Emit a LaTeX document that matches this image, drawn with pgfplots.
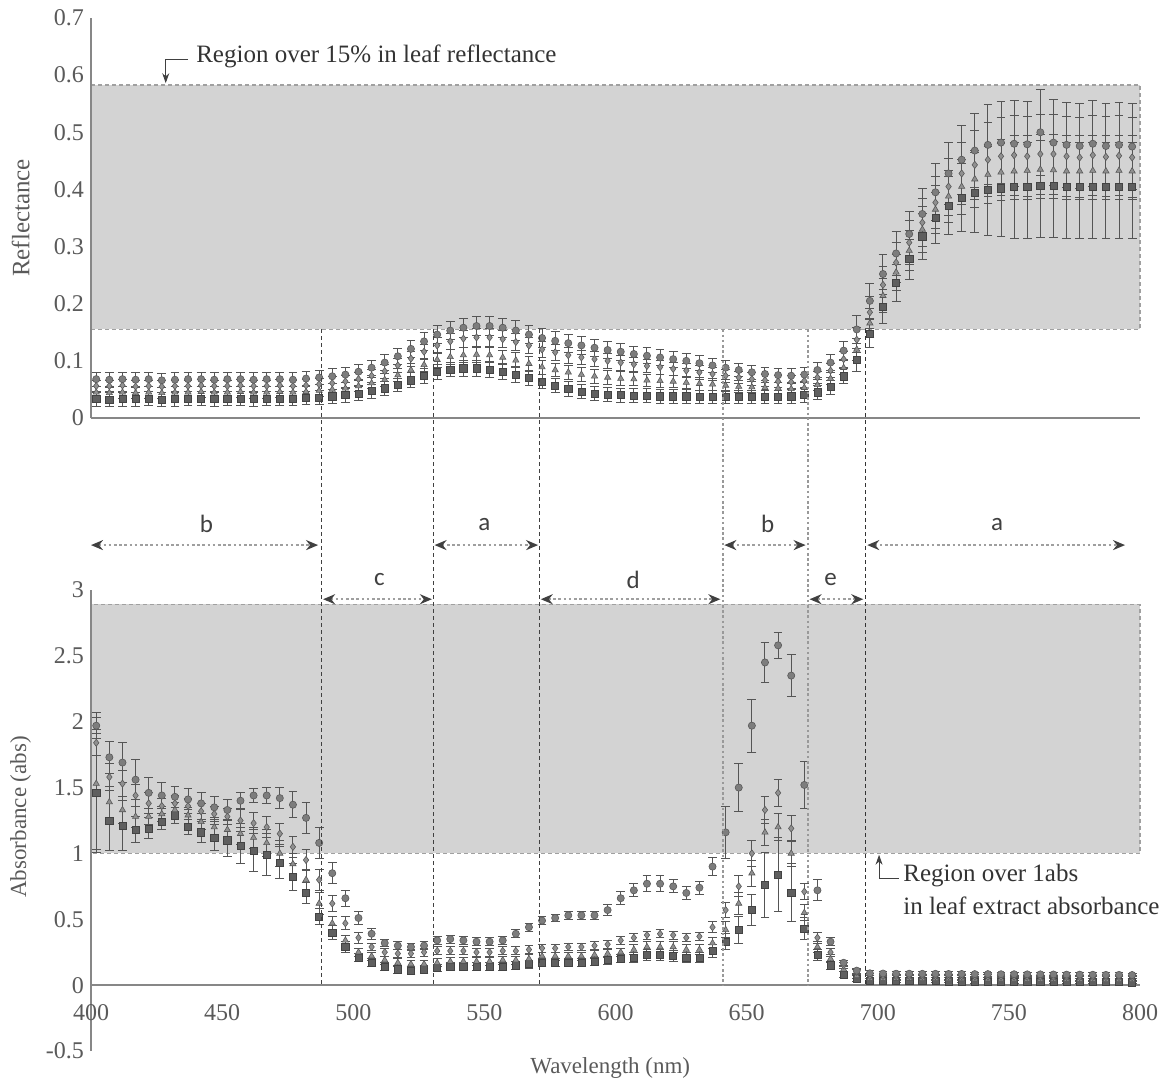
\documentclass[border=0pt]{standalone}
\usepackage{pgfplots}
\pgfplotsset{compat=1.18}
\usepackage{pgfplotstable}
\usepackage{fontspec}
\setmainfont{Liberation Serif}
\newfontfamily\lblfont{Carlito}
\usetikzlibrary{arrows.meta}

\definecolor{regiongray}{RGB}{211,211,211}
\definecolor{regionedge}{RGB}{160,160,160}
\definecolor{axgray}{RGB}{135,135,135}
\definecolor{txtgray}{RGB}{90,90,90}
\definecolor{mkgray}{RGB}{125,125,125}
\definecolor{mkdark}{RGB}{95,95,95}
\definecolor{errgray}{RGB}{85,85,85}

\pgfplotstableread{
x s1 e1 s2 e2 s3 e3 s4 e4
402 0.068 0.012 0.056 0.010 0.045 0.010 0.033 0.012
407 0.067 0.012 0.056 0.010 0.044 0.010 0.032 0.012
412 0.068 0.012 0.057 0.010 0.045 0.010 0.033 0.012
417 0.067 0.012 0.055 0.010 0.044 0.010 0.033 0.012
422 0.068 0.012 0.056 0.010 0.045 0.010 0.034 0.012
427 0.066 0.012 0.055 0.010 0.044 0.010 0.032 0.012
432 0.067 0.012 0.056 0.010 0.045 0.010 0.033 0.012
437 0.068 0.012 0.056 0.010 0.045 0.010 0.034 0.012
442 0.068 0.012 0.057 0.010 0.046 0.010 0.034 0.012
447 0.067 0.012 0.056 0.010 0.045 0.010 0.033 0.012
452 0.068 0.012 0.056 0.010 0.045 0.010 0.034 0.012
457 0.068 0.012 0.057 0.010 0.046 0.010 0.034 0.012
462 0.067 0.012 0.056 0.010 0.045 0.010 0.033 0.012
467 0.068 0.012 0.056 0.010 0.045 0.010 0.034 0.012
472 0.068 0.012 0.057 0.010 0.046 0.010 0.034 0.012
477 0.067 0.012 0.056 0.010 0.045 0.010 0.034 0.012
482 0.069 0.012 0.057 0.010 0.046 0.010 0.035 0.012
487 0.071 0.013 0.059 0.011 0.048 0.010 0.036 0.012
492 0.073 0.013 0.061 0.011 0.050 0.010 0.038 0.012
497 0.076 0.013 0.064 0.011 0.052 0.010 0.040 0.012
502 0.081 0.013 0.068 0.011 0.056 0.010 0.043 0.012
507 0.088 0.013 0.074 0.011 0.061 0.010 0.047 0.012
512 0.097 0.014 0.082 0.012 0.067 0.011 0.052 0.012
517 0.108 0.014 0.092 0.012 0.075 0.011 0.058 0.012
522 0.121 0.015 0.104 0.013 0.084 0.012 0.066 0.013
527 0.134 0.015 0.116 0.013 0.093 0.012 0.074 0.013
532 0.146 0.016 0.127 0.014 0.102 0.013 0.081 0.013
537 0.153 0.016 0.134 0.014 0.107 0.013 0.085 0.013
542 0.158 0.017 0.139 0.015 0.110 0.013 0.087 0.014
547 0.161 0.017 0.141 0.015 0.111 0.013 0.087 0.014
552 0.161 0.017 0.141 0.015 0.110 0.013 0.085 0.014
557 0.158 0.017 0.138 0.015 0.106 0.013 0.081 0.014
562 0.153 0.017 0.133 0.015 0.101 0.013 0.076 0.014
567 0.146 0.016 0.127 0.014 0.095 0.013 0.070 0.013
572 0.140 0.016 0.120 0.014 0.089 0.012 0.064 0.013
577 0.135 0.016 0.115 0.014 0.084 0.012 0.057 0.013
582 0.131 0.016 0.110 0.014 0.080 0.012 0.051 0.013
587 0.127 0.015 0.106 0.013 0.076 0.012 0.046 0.012
592 0.123 0.015 0.103 0.013 0.073 0.012 0.043 0.012
597 0.119 0.015 0.100 0.013 0.071 0.012 0.041 0.012
602 0.116 0.015 0.097 0.013 0.069 0.012 0.040 0.012
607 0.112 0.014 0.094 0.012 0.068 0.011 0.039 0.012
612 0.109 0.014 0.091 0.012 0.066 0.011 0.039 0.012
617 0.106 0.014 0.089 0.012 0.065 0.011 0.038 0.012
622 0.103 0.014 0.086 0.012 0.064 0.011 0.038 0.012
627 0.100 0.013 0.083 0.012 0.062 0.011 0.038 0.012
632 0.096 0.013 0.080 0.012 0.060 0.011 0.037 0.012
637 0.092 0.013 0.077 0.011 0.059 0.010 0.037 0.012
642 0.088 0.013 0.074 0.011 0.057 0.010 0.037 0.012
647 0.084 0.012 0.071 0.011 0.055 0.010 0.037 0.012
652 0.080 0.012 0.068 0.011 0.054 0.010 0.037 0.012
657 0.077 0.012 0.066 0.011 0.053 0.010 0.037 0.012
662 0.075 0.012 0.064 0.011 0.052 0.010 0.037 0.012
667 0.074 0.012 0.063 0.011 0.051 0.010 0.038 0.012
672 0.076 0.012 0.065 0.011 0.053 0.010 0.040 0.012
677 0.084 0.013 0.071 0.011 0.058 0.010 0.045 0.012
682 0.097 0.014 0.083 0.012 0.069 0.011 0.054 0.012
687 0.118 0.016 0.103 0.014 0.088 0.012 0.073 0.013
692 0.155 0.025 0.137 0.022 0.120 0.020 0.102 0.020
697 0.205 0.030 0.185 0.028 0.166 0.025 0.148 0.025
702 0.252 0.035 0.233 0.032 0.214 0.030 0.195 0.030
707 0.288 0.038 0.272 0.035 0.255 0.032 0.236 0.032
712 0.322 0.040 0.307 0.038 0.293 0.035 0.278 0.035
717 0.357 0.045 0.342 0.042 0.330 0.040 0.318 0.040
722 0.395 0.050 0.377 0.045 0.365 0.042 0.350 0.045
727 0.428 0.055 0.405 0.050 0.388 0.045 0.372 0.050
732 0.452 0.060 0.428 0.055 0.405 0.048 0.386 0.060
737 0.468 0.065 0.443 0.060 0.418 0.050 0.394 0.070
742 0.478 0.070 0.452 0.065 0.426 0.050 0.399 0.080
747 0.482 0.072 0.458 0.068 0.430 0.050 0.402 0.085
752 0.480 0.075 0.460 0.070 0.432 0.050 0.404 0.090
757 0.479 0.075 0.458 0.070 0.433 0.050 0.405 0.090
762 0.500 0.075 0.462 0.070 0.435 0.050 0.406 0.090
767 0.482 0.075 0.462 0.070 0.434 0.050 0.406 0.090
772 0.478 0.075 0.458 0.070 0.432 0.050 0.405 0.090
777 0.476 0.075 0.456 0.070 0.432 0.050 0.404 0.090
782 0.480 0.075 0.460 0.070 0.433 0.050 0.405 0.090
787 0.476 0.075 0.457 0.070 0.432 0.050 0.404 0.090
792 0.478 0.075 0.459 0.070 0.433 0.050 0.405 0.090
797 0.475 0.075 0.456 0.070 0.432 0.050 0.404 0.090
}\toptab

\pgfplotstableread{
x b1 f1 b2 f2 b3 f3 b4 f4
402 1.97 0.10 1.84 0.10 1.53 0.50 1.46 0.45
407 1.73 0.12 1.58 0.10 1.39 0.12 1.25 0.23
412 1.69 0.15 1.53 0.10 1.33 0.10 1.21 0.19
417 1.56 0.15 1.44 0.08 1.28 0.08 1.18 0.10
422 1.46 0.12 1.38 0.08 1.28 0.06 1.19 0.08
427 1.44 0.10 1.36 0.06 1.30 0.06 1.24 0.06
432 1.43 0.08 1.38 0.06 1.33 0.06 1.29 0.06
437 1.41 0.08 1.36 0.06 1.29 0.06 1.20 0.06
442 1.38 0.08 1.32 0.06 1.24 0.06 1.16 0.08
447 1.35 0.08 1.30 0.06 1.20 0.06 1.12 0.10
452 1.33 0.08 1.28 0.06 1.18 0.08 1.10 0.12
457 1.40 0.06 1.25 0.08 1.15 0.08 1.06 0.14
462 1.44 0.05 1.23 0.08 1.12 0.08 1.02 0.16
467 1.44 0.06 1.20 0.08 1.08 0.10 0.99 0.16
472 1.42 0.08 1.15 0.08 1.00 0.10 0.93 0.12
477 1.37 0.10 1.05 0.08 0.92 0.08 0.82 0.10
482 1.27 0.12 0.95 0.08 0.80 0.08 0.70 0.08
487 1.08 0.12 0.80 0.08 0.62 0.08 0.52 0.06
492 0.85 0.08 0.62 0.06 0.47 0.05 0.40 0.05
497 0.66 0.06 0.47 0.05 0.34 0.04 0.29 0.04
502 0.51 0.05 0.36 0.04 0.25 0.03 0.21 0.03
507 0.39 0.04 0.29 0.03 0.22 0.03 0.17 0.03
512 0.32 0.03 0.25 0.03 0.19 0.03 0.14 0.03
517 0.30 0.03 0.24 0.03 0.17 0.03 0.12 0.03
522 0.29 0.03 0.24 0.03 0.16 0.03 0.11 0.03
527 0.30 0.03 0.25 0.03 0.16 0.03 0.12 0.03
532 0.34 0.03 0.26 0.03 0.17 0.03 0.13 0.03
537 0.35 0.03 0.26 0.03 0.18 0.03 0.14 0.03
542 0.34 0.03 0.26 0.03 0.18 0.03 0.14 0.03
547 0.33 0.03 0.25 0.03 0.18 0.03 0.14 0.03
552 0.33 0.03 0.25 0.03 0.18 0.03 0.14 0.03
557 0.34 0.03 0.26 0.03 0.19 0.03 0.14 0.03
562 0.39 0.03 0.26 0.03 0.19 0.03 0.15 0.03
567 0.44 0.03 0.27 0.03 0.20 0.03 0.16 0.03
572 0.49 0.03 0.28 0.03 0.22 0.03 0.17 0.03
577 0.51 0.03 0.28 0.03 0.22 0.03 0.17 0.03
582 0.53 0.03 0.29 0.03 0.22 0.03 0.17 0.03
587 0.53 0.03 0.29 0.03 0.22 0.03 0.17 0.03
592 0.53 0.03 0.30 0.03 0.23 0.03 0.18 0.03
597 0.57 0.04 0.31 0.03 0.24 0.03 0.19 0.03
602 0.66 0.05 0.34 0.03 0.25 0.03 0.20 0.03
607 0.72 0.05 0.36 0.03 0.27 0.04 0.21 0.04
612 0.77 0.06 0.38 0.03 0.29 0.04 0.23 0.04
617 0.77 0.06 0.39 0.03 0.29 0.04 0.23 0.04
622 0.75 0.05 0.38 0.03 0.29 0.04 0.22 0.04
627 0.70 0.05 0.36 0.03 0.27 0.04 0.21 0.04
632 0.74 0.05 0.37 0.03 0.27 0.04 0.21 0.04
637 0.90 0.07 0.44 0.04 0.32 0.04 0.26 0.05
642 1.16 0.20 0.57 0.06 0.42 0.06 0.33 0.06
647 1.50 0.18 0.75 0.08 0.62 0.08 0.42 0.10
652 1.97 0.20 1.00 0.10 0.85 0.10 0.57 0.12
657 2.45 0.15 1.33 0.10 1.16 0.10 0.76 0.25
662 2.58 0.10 1.46 0.10 1.20 0.10 0.84 0.28
667 2.35 0.16 1.19 0.10 1.00 0.10 0.70 0.22
672 1.52 0.18 0.71 0.06 0.55 0.06 0.43 0.08
677 0.72 0.08 0.36 0.04 0.29 0.04 0.23 0.04
682 0.33 0.03 0.25 0.03 0.20 0.03 0.15 0.03
687 0.17 0.02 0.15 0.02 0.12 0.02 0.08 0.02
692 0.11 0.02 0.10 0.02 0.07 0.02 0.05 0.02
697 0.09 0.02 0.07 0.02 0.05 0.02 0.03 0.02
702 0.088 0.015 0.070 0.012 0.050 0.012 0.032 0.012
707 0.087 0.015 0.069 0.012 0.049 0.012 0.031 0.012
712 0.087 0.015 0.069 0.012 0.049 0.012 0.031 0.012
717 0.086 0.015 0.068 0.012 0.048 0.012 0.030 0.012
722 0.086 0.015 0.068 0.012 0.048 0.012 0.030 0.012
727 0.085 0.015 0.067 0.012 0.047 0.012 0.029 0.012
732 0.085 0.015 0.067 0.012 0.047 0.012 0.029 0.012
737 0.084 0.015 0.066 0.012 0.046 0.012 0.028 0.012
742 0.084 0.015 0.066 0.012 0.046 0.012 0.028 0.012
747 0.083 0.015 0.065 0.012 0.045 0.012 0.027 0.012
752 0.083 0.015 0.065 0.012 0.045 0.012 0.027 0.012
757 0.082 0.015 0.064 0.012 0.044 0.012 0.026 0.012
762 0.082 0.015 0.064 0.012 0.044 0.012 0.026 0.012
767 0.081 0.015 0.063 0.012 0.043 0.012 0.025 0.012
772 0.080 0.015 0.063 0.012 0.043 0.012 0.025 0.012
777 0.080 0.015 0.062 0.012 0.042 0.012 0.024 0.012
782 0.079 0.015 0.062 0.012 0.042 0.012 0.024 0.012
787 0.078 0.015 0.061 0.012 0.041 0.012 0.023 0.012
792 0.078 0.015 0.061 0.012 0.041 0.012 0.023 0.012
797 0.077 0.015 0.060 0.012 0.040 0.012 0.022 0.012
}\bottab

\pgfplotsset{
  panel/.style={
    scale only axis,
    width=524.5pt,
    xmin=400, xmax=800,
    clip=false,
    axis on top,
    major tick length=0pt,
    axis line style={axgray, line width=0.9pt},
    tick label style={font=\fontsize{12}{14}\selectfont, text=txtgray},
    /pgf/number format/assume math mode=true,
    scaled y ticks=false,
    yticklabel style={/pgf/number format/fixed},
  },
  noarrows/.style={
    every inner x axis line/.append style={-},
    every outer x axis line/.append style={-},
    every inner y axis line/.append style={-},
    every outer y axis line/.append style={-},
  },
  ser/.style={only marks, mark size=1.8pt,
    error bars/.cd, y dir=both, y explicit,
    error mark=-,
    error bar style={errgray, line width=0.5pt},
    error mark options={rotate=90, errgray, mark size=2.2pt, line width=0.5pt}},
  m1/.style={mark=*, mark options={fill=mkgray, draw=mkgray!70!black, line width=0.3pt}},
  m2/.style={mark=diamond*, mark options={fill=mkgray!85, draw=mkgray!70!black, line width=0.3pt}},
  m3/.style={mark=triangle*, mark options={fill=mkgray!85, draw=mkgray!70!black, line width=0.3pt}},
  m4/.style={mark=square*, mark size=1.6pt, mark options={fill=mkdark, draw=mkdark!70!black, line width=0.3pt}},
}

\tikzset{
  rowarrow/.style={draw=gray!75, line width=1pt, dash pattern=on 1.3pt off 1.3pt,
    {Stealth[length=6pt,width=5pt,color=black!75]}-{Stealth[length=6pt,width=5pt,color=black!75]}},
  lbl/.style={font=\lblfont\fontsize{12.5}{14}\selectfont, text=black!75},
  annot/.style={draw=black!75, line width=0.5pt},
  annottext/.style={font=\fontsize{12.5}{14}\selectfont, text=black!80, anchor=west, inner sep=0pt},
}

\begin{document}
\begin{tikzpicture}
\useasboundingbox (0,0) rectangle (584.5pt,-541pt);

% ---------------- top panel ----------------
\begin{axis}[panel, name=top, at={(45.5pt,-209pt)}, anchor=south west,
  height=200pt, ymin=0, ymax=0.7,
  ytick={0,0.1,0.2,0.3,0.4,0.5,0.6,0.7}, xtick=\empty,
  axis x line*=bottom, axis y line*=left,
  ylabel={Reflectance},
  every axis y label/.style={at={(axis description cs:-0.067,0.5)}, rotate=90, anchor=center,
    font=\fontsize{12.5}{14}\selectfont, text=txtgray},
  noarrows]
  \fill[regiongray] (axis cs:400,0.155) rectangle (axis cs:800,0.583);
  \draw[regionedge, line width=0.8pt, dash pattern=on 2pt off 1.5pt] (axis cs:400,0.155) rectangle (axis cs:800,0.583);
  \addplot+[m4, ser] table[x=x, y=s4, y error=e4] {\toptab};
  \addplot+[m3, ser] table[x=x, y=s3, y error=e3] {\toptab};
  \addplot+[m2, ser] table[x=x, y=s2, y error=e2] {\toptab};
  \addplot+[m1, ser] table[x=x, y=s1, y error=e1] {\toptab};
  \coordinate (t1) at (axis cs:488,0.155);
  \coordinate (t2) at (axis cs:530.5,0.155);
  \coordinate (t3) at (axis cs:571,0.155);
  \coordinate (t4) at (axis cs:641,0.155);
  \coordinate (t5) at (axis cs:673.5,0.155);
  \coordinate (t6) at (axis cs:695.3,0.155);
  \draw[annot, -{Stealth[length=5pt,width=3.5pt]}] (axis cs:437,0.627) -- (axis cs:428.5,0.627) -- (axis cs:428.5,0.586);
  \node[annottext] at (axis cs:440,0.632) {Region over 15\% in leaf reflectance};
\end{axis}

% ---------------- bottom panel ----------------
\begin{axis}[panel, name=bot, at={(45.5pt,-525.5pt)}, anchor=south west,
  height=230.5pt, ymin=-0.5, ymax=3,
  ytick={-0.5,0,0.5,1,1.5,2,2.5,3},
  xtick={400,450,500,550,600,650,700,750,800},
  axis x line=middle, axis y line*=left,
  hide obscured x ticks=false, hide obscured y ticks=false,
  xticklabel style={yshift=-6pt},
  xlabel={Wavelength (nm)},
  every axis x label/.style={at={(axis description cs:0.495,-0.037)}, anchor=center,
    font=\fontsize{11.5}{14}\selectfont, text=txtgray},
  ylabel={Absorbance (abs)},
  every axis y label/.style={at={(axis description cs:-0.067,0.508)}, rotate=90, anchor=center,
    font=\fontsize{11.5}{14}\selectfont, text=txtgray},
  noarrows]
  \fill[regiongray] (axis cs:400,1.0) rectangle (axis cs:800,2.89);
  \draw[regionedge, line width=0.8pt, dash pattern=on 2pt off 1.5pt] (axis cs:400,1.0) rectangle (axis cs:800,2.89);
  \addplot+[m4, ser] table[x=x, y=b4, y error=f4] {\bottab};
  \addplot+[m3, ser] table[x=x, y=b3, y error=f3] {\bottab};
  \addplot+[m2, ser] table[x=x, y=b2, y error=f2] {\bottab};
  \addplot+[m1, ser] table[x=x, y=b1, y error=f1] {\bottab};
  \coordinate (b1) at (axis cs:488,0);
  \coordinate (b2) at (axis cs:530.5,0);
  \coordinate (b3) at (axis cs:571,0);
  \coordinate (b4) at (axis cs:641,0);
  \coordinate (b5) at (axis cs:673.5,0);
  \coordinate (b6) at (axis cs:695.3,0);
  % region arrows, upper row
  \draw[rowarrow] (axis cs:400,3.341) -- (axis cs:486.6,3.341);
  \node[lbl] at (axis cs:444,3.50) {b};
  \draw[rowarrow] (axis cs:531,3.341) -- (axis cs:570.5,3.341);
  \node[lbl] at (axis cs:550,3.50) {a};
  \draw[rowarrow] (axis cs:641.5,3.341) -- (axis cs:672.5,3.341);
  \node[lbl] at (axis cs:658,3.50) {b};
  \draw[rowarrow] (axis cs:696,3.341) -- (axis cs:794.3,3.341);
  \node[lbl] at (axis cs:745.5,3.50) {a};
  % lower row
  \draw[rowarrow] (axis cs:488.5,2.93) -- (axis cs:530,2.93);
  \node[lbl] at (axis cs:510,3.08) {c};
  \draw[rowarrow] (axis cs:571.5,2.93) -- (axis cs:640,2.93);
  \node[lbl] at (axis cs:606.7,3.08) {d};
  \draw[rowarrow] (axis cs:674,2.93) -- (axis cs:694.5,2.93);
  \node[lbl] at (axis cs:682,3.08) {e};
  % annotation
  \draw[annot, -{Stealth[length=5pt,width=3.5pt]}] (axis cs:708,0.81) -- (axis cs:700.5,0.81) -- (axis cs:700.5,0.99);
  \node[annottext] at (axis cs:709.6,0.83) {Region over 1abs};
  \node[annottext] at (axis cs:709.6,0.60) {in leaf extract absorbance};
\end{axis}

% vertical dashed separators
\draw[black!75, line width=0.6pt, dash pattern=on 2pt off 1.5pt] (t1) -- (b1);
\draw[black!75, line width=0.6pt, dash pattern=on 2pt off 1.5pt] (t2) -- (b2);
\draw[black!75, line width=0.6pt, dash pattern=on 2pt off 1.5pt] (t3) -- (b3);
\draw[gray!80, line width=0.9pt, dash pattern=on 1.3pt off 1.3pt] (t4) -- (b4);
\draw[gray!80, line width=0.9pt, dash pattern=on 1.3pt off 1.3pt] (t5) -- (b5);
\draw[black!80, line width=0.6pt, dash pattern=on 2pt off 1.5pt] (t6) -- (b6);
\end{tikzpicture}
\end{document}
